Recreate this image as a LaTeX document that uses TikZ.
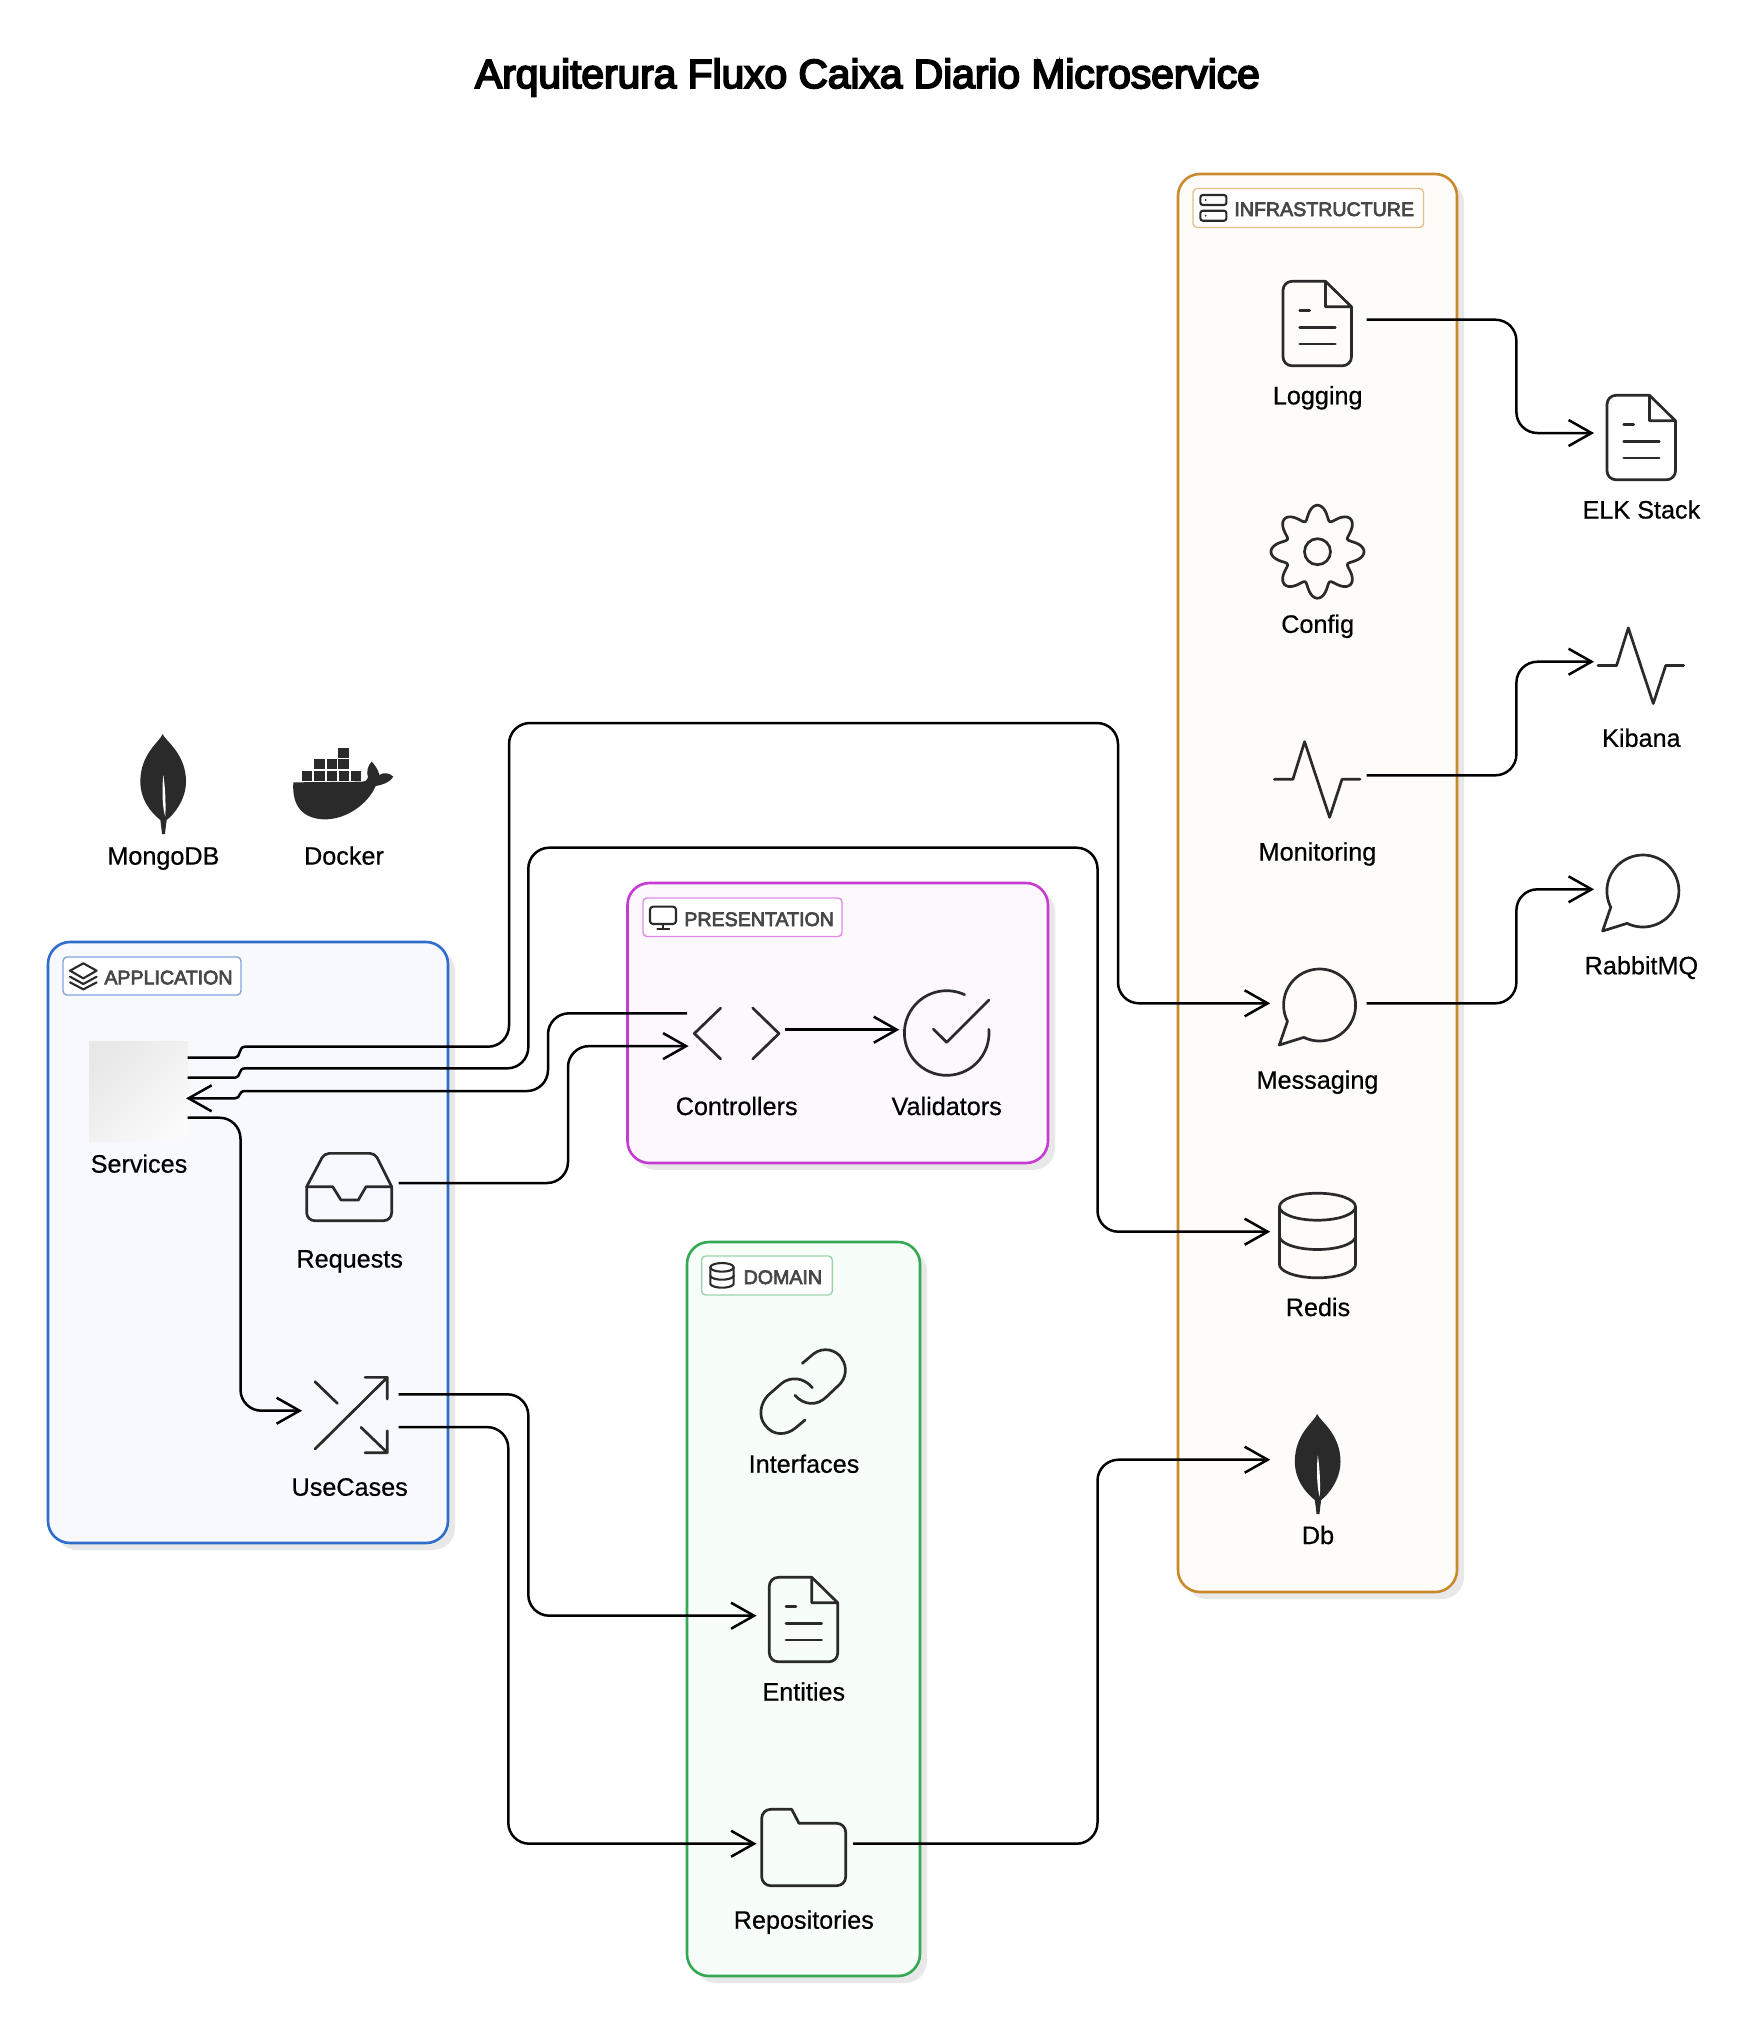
\documentclass[tikz,border=0pt]{standalone}
\usepackage{fontspec}
\setmainfont{Liberation Sans}
\newfontfamily\titlefont[FakeBold=4.5]{Liberation Sans}
\newfontfamily\groupfont[FakeBold=3.5]{Liberation Sans}
\newfontfamily\labelfont[FakeBold=0.5]{Liberation Sans}
\usetikzlibrary{arrows.meta,calc,shadings}
\definecolor{inkc}{HTML}{2A2A2A}
\definecolor{shadowc}{HTML}{E8E8E8}
\definecolor{appS}{HTML}{2F6DCB}\definecolor{appF}{HTML}{F8F9FE}\definecolor{appL}{HTML}{7FA6E0}
\definecolor{preS}{HTML}{C63CD2}\definecolor{preF}{HTML}{FCF8FE}\definecolor{preL}{HTML}{E08AE8}
\definecolor{domS}{HTML}{34A853}\definecolor{domF}{HTML}{F7FDF9}\definecolor{domL}{HTML}{9AD4AB}
\definecolor{infS}{HTML}{C98A2E}\definecolor{infF}{HTML}{FDFCF8}\definecolor{infL}{HTML}{E5C08A}
\tikzset{
  x=0.5pt,y=-0.5pt,
  conn/.style={draw=black,line width=1.25pt},
  arrowend/.style={-{Straight Barb[length=11.5pt,width=13pt,line width=1.25pt]},shorten >=-0.8pt},
  arrowstart/.style={{Straight Barb[length=11.5pt,width=13pt,line width=1.25pt]}-,shorten <=-0.8pt},
  round path/.style={rounded corners=10.5pt},
  iconnode/.style={inner sep=0pt,outer sep=0pt,minimum size=49pt,draw=none},
  lbl/.style={anchor=base,inner sep=0pt,text=black,font=\labelfont\fontsize{12.6}{15}\selectfont},
  grouptext/.style={anchor=base west,inner sep=0pt,text=black!72,font=\groupfont\fontsize{9.8}{12}\selectfont},
  ink/.style={draw=inkc,line width=1.35pt,line cap=round,line join=round},
  inkthin/.style={draw=inkc,line width=1.05pt,line cap=round,line join=round},
  z3/.style={x=0.16667pt,y=-0.16667pt},
}
% group box: x1 y1 x2 y2 prefix, label box x1 y1 x2 y2
\newcommand\groupbox[9]{%
  \fill[shadowc,rounded corners=11pt] (#1+7,#2+7) rectangle (#3+7,#4+7);
  \draw[draw=#5S,fill=#5F,line width=1.3pt,rounded corners=11pt] (#1,#2) rectangle (#3,#4);
  \draw[draw=#5L,fill=white,line width=0.7pt,rounded corners=2pt] (#6,#7) rectangle (#8,#9);
}
\newcommand\docicon[2]{%
  \begin{scope}[shift={(#1,#2)}]
    \draw[ink,rounded corners=4.5pt] (42.5,0) -- (0,0) -- (0,84.5) -- (68.5,84.5) -- (68.5,25.5);
    \draw[ink] (68.5,25.5) -- (42.5,0) -- (42.5,25.5) -- cycle;
    \draw[ink] (16.7,29.3) -- (26.7,29.3) (16.7,46) -- (52.3,46) (16.7,62.7) -- (52.3,62.7);
  \end{scope}}
\newcommand\pulseicon[2]{%
  \begin{scope}[shift={(#1,#2)}]
    \draw[ink] (0,0) -- (18.6,0) -- (30.3,-37.6) -- (55.3,38) -- (67.7,0) -- (85.7,0);
  \end{scope}}
\newcommand\bubbleicon[2]{%
  \begin{scope}[shift={(#1,#2)}]
    \draw[ink] plot[domain=244:566.8,samples=70] ({36*cos(\x)},{-36*sin(\x)}) -- (-40.3,40) -- cycle;
  \end{scope}}
\newcommand\leaficon[3]{%
  \begin{scope}[shift={(#1,#2)},z3]
    \fill[inkc] (308,42) .. controls (315,62) and (378,100) .. (378,185) .. controls (378,240) and (340,285) .. (320,300) .. controls (318,315) and (316,330) .. (315,342) -- (306,342) .. controls (305,330) and (303,315) .. (301,300) .. controls (275,280) and (241,240) .. (241,185) .. controls (241,100) and (300,65) .. (308,42) -- cycle;
    \fill[#3] (310,165) .. controls (305,210) and (308,270) .. (316,290) .. controls (318,240) and (315,200) .. (310,165) -- cycle;
  \end{scope}}
\newcommand\lowarc[4]{plot[domain=180:360,samples=30] ({#1+#3*cos(\x)},{#2-#4*sin(\x)})}
\begin{document}
\begin{tikzpicture}
\useasboundingbox (0,0) rectangle (1761,2026);
\fill[white] (0,0) rectangle (1761,2026);

% title
\node[anchor=base,inner sep=0pt,text=black,font=\titlefont\fontsize{20.35}{24}\selectfont] (title) at (867.5,88) {Arquiterura Fluxo Caixa Diario Microservice};

% groups
\groupbox{48}{942}{448}{1543}{app}{63}{957}{241}{995}
\groupbox{627.5}{883}{1048}{1163}{pre}{643}{898}{842}{936.5}
\groupbox{687}{1242}{920}{1976}{dom}{701.7}{1256}{832.3}{1295}
\groupbox{1178}{174}{1457}{1592}{inf}{1193}{188.5}{1423.5}{227.5}

\node[grouptext] (appT) at (104,984.3) {APPLICATION};
\node[grouptext] (preT) at (684,926) {PRESENTATION};
\node[grouptext] (domT) at (743.3,1284) {DOMAIN};
\node[grouptext] (infT) at (1234,216) {INFRASTRUCTURE};

% group icons
\begin{scope}[shift={(40,930)},z3]
  \draw[inkthin] (130,100) -- (170,122) -- (130,145) -- (90,122) -- cycle;
  \draw[inkthin] (90,140) -- (130,162) -- (170,140);
  \draw[inkthin] (90,157) -- (130,178) -- (170,157);
\end{scope}
\begin{scope}[shift={(600,860)},z3]
  \draw[inkthin,rounded corners=1.5pt] (150,140) rectangle (228,192);
  \draw[inkthin] (190,192) -- (190,207) (172,207) -- (208,207);
\end{scope}
\draw[inkthin,rounded corners=1.2pt] (1200.4,195) rectangle (1226.4,205);
\draw[inkthin,rounded corners=1.2pt] (1200.4,210.7) rectangle (1226.4,220.7);
\fill[inkc] (1205.7,200) circle[radius=1] (1205.7,215.7) circle[radius=1];
\begin{scope}[shift={(680,1240)},z3]
  \draw[inkthin] (126,82) ellipse[x radius=35,y radius=13];
  \draw[inkthin] (91,82) -- (91,130) \lowarc{126}{130}{35}{13} -- (161,82);
  \draw[inkthin] \lowarc{126}{106}{35}{13};
\end{scope}

% icon anchors
\node[iconnode] (services) at (138.7,1091) {};
\node[iconnode] (requests) at (349.5,1183) {};
\node[iconnode] (usecases) at (349.5,1410.7) {};
\node[iconnode] (controllers) at (736,1029.7) {};
\node[iconnode] (validators) at (946.7,1029.7) {};
\node[iconnode] (interfaces) at (804,1387.7) {};
\node[iconnode] (entities) at (804,1615.7) {};
\node[iconnode] (repositories) at (804,1843.7) {};
\node[iconnode] (logging) at (1317.6,319.7) {};
\node[iconnode] (config) at (1317.6,547.5) {};
\node[iconnode] (monitoring) at (1317.6,775.3) {};
\node[iconnode] (messaging) at (1317.6,1003.3) {};
\node[iconnode] (redis) at (1317.6,1231.7) {};
\node[iconnode] (db) at (1317.6,1459.7) {};
\node[iconnode] (elk) at (1641.5,433) {};
\node[iconnode] (kibana) at (1641.5,661.7) {};
\node[iconnode] (rabbitmq) at (1641.5,889.3) {};
\node[iconnode] (mongodb) at (163.5,785) {};
\node[iconnode] (docker) at (344,785) {};

% services placeholder
\shade[top color=black!9,middle color=black!2.5,bottom color=white!98!black,shading angle=45] (89.3,1041.7) rectangle (188,1141.7);

% icons
\leaficon{60}{720}{white}
\leaficon{1214.5}{1400}{infF}
\begin{scope}[shift={(60,720)},z3]
  \fill[inkc] (700,187) -- (905,185) .. controls (918,185) and (922,180) .. (924,172) .. controls (918,155) and (924,135) .. (935,125) .. controls (945,135) and (955,150) .. (958,165) .. controls (972,155) and (990,160) .. (1000,170) .. controls (990,188) and (965,195) .. (947,198) .. controls (925,250) and (860,300) .. (790,298) .. controls (730,295) and (695,260) .. (700,187) -- cycle;
  \foreach \a in {726,763,800,837,873} \fill[inkc] (\a,152) rectangle ++(31,30);
  \foreach \a in {763,800,835} \fill[inkc] (\a,118) rectangle ++(31,30);
  \fill[inkc] (835,85) rectangle ++(31,30);
\end{scope}
% requests inbox
\begin{scope}[shift={(280,1130)},z3]
  \draw[ink,rounded corners=4pt] (80,170) -- (80,272) -- (335,272) -- (335,170);
  \draw[ink,rounded corners=2.5pt] (80,170) -- (133,70) -- (285,70) -- (335,170);
  \draw[ink] (80,170) -- (158,170) -- (183,210) -- (235,210) -- (258,170) -- (335,170);
  % usecases shuffle
  \draw[ink] (105,957) -- (322,742) (255,742) -- (322,742) -- (322,807);
  \draw[ink] (105,755) -- (172,820);
  \draw[ink] (243,892) -- (322,968) (322,902) -- (322,968) -- (255,968);
\end{scope}
% controllers
\draw[ink] (720.7,1008) -- (694.3,1033.5) -- (720.7,1059);
\draw[ink] (752.7,1008) -- (779,1033.5) -- (752.7,1059);
% validators
\draw[ink] plot[domain=65:365,samples=70] ({946.7+42.3*cos(\x)},{1033-42.3*sin(\x)});
\draw[ink] (933.3,1029) -- (946.7,1042.3) -- (989,1000);
% interfaces link
\begin{scope}[shift={(680,1240)},z3]
  \draw[ink] (367,370) -- (400,342) .. controls (430,318) and (470,330) .. (485,355) .. controls (505,385) and (495,415) .. (480,432) -- (440,470) .. controls (410,500) and (370,495) .. (345,466);
  \draw[ink] (397,443) .. controls (370,410) and (330,410) .. (305,430) -- (265,465) .. controls (240,490) and (235,530) .. (255,555) .. controls (280,590) and (320,585) .. (345,565) -- (375,540);
\end{scope}
% documents
\docicon{769.3}{1577.3}
\docicon{1283}{281.3}
\docicon{1607}{395.3}
% repositories folder
\draw[ink,rounded corners=4.5pt] (791.7,1809.3) -- (761.7,1809.3) -- (761.7,1885.7) -- (845.7,1885.7) -- (845.7,1823.3) -- (799,1823.3);
\draw[ink] (791.7,1809.3) -- (799,1823.3);
% config gear
\draw[ink] plot[domain=0:360,samples=200] ({1317.5+(39.5+7*cos(8*\x))*cos(\x+1.5*sin(8*\x))},{551.7-(39.5+7*cos(8*\x))*sin(\x+1.5*sin(8*\x))}) -- cycle;
\draw[ink] (1317.5,551.7) circle[radius=13];
% monitoring / kibana
\pulseicon{1274.3}{779.3}
\pulseicon{1598}{665.5}
% messaging / rabbit
\bubbleicon{1319.6}{1005}
\bubbleicon{1642.9}{891}
% redis
\draw[ink] (1317.5,1206.7) ellipse[x radius=38,y radius=13.5];
\draw[ink] (1279.5,1206.7) -- (1279.5,1264.3) \lowarc{1317.5}{1264.3}{38}{13.5} -- (1355.5,1206.7);
\draw[ink] \lowarc{1317.5}{1236}{38}{13.5};

% labels
\node[lbl] (mongoL) at (163.4,864.6) {MongoDB};
\node[lbl] (dockerL) at (344,864.6) {Docker};
\node[lbl] (servicesL) at (139,1172.6) {Services};
\node[lbl] (requestsL) at (349.7,1267.5) {Requests};
\node[lbl] (usecasesL) at (349.7,1495.7) {UseCases};
\node[lbl] (controllersL) at (736.7,1115) {Controllers};
\node[lbl] (validatorsL) at (946.7,1115) {Validators};
\node[lbl] (interfacesL) at (804,1472.7) {Interfaces};
\node[lbl] (entitiesL) at (803.8,1700.5) {Entities};
\node[lbl] (repositoriesL) at (803.8,1928.7) {Repositories};
\node[lbl] (loggingL) at (1317.7,404.3) {Logging};
\node[lbl] (configL) at (1317.7,632.8) {Config};
\node[lbl] (monitoringL) at (1317.5,860.5) {Monitoring};
\node[lbl] (messagingL) at (1317.5,1088.7) {Messaging};
\node[lbl] (redisL) at (1318,1316) {Redis};
\node[lbl] (dbL) at (1318,1544) {Db};
\node[lbl] (elkL) at (1641.4,518.5) {ELK Stack};
\node[lbl] (kibanaL) at (1641.4,746.8) {Kibana};
\node[lbl] (rabbitL) at (1641.4,974.3) {RabbitMQ};

% ports
\coordinate (svA) at ($(services.east)+(0,-33.3)$);
\coordinate (svB) at ($(services.east)+(0,-13.3)$);
\coordinate (svC) at ($(services.east)+(0,7.3)$);
\coordinate (svD) at ($(services.east)+(0,26.7)$);
\coordinate (ctA) at ($(controllers.west)+(0,-16.4)$);
\coordinate (ctB) at ($(controllers.west)+(0,16.4)$);
\coordinate (ucA) at ($(usecases.east)+(0,-16.4)$);
\coordinate (ucB) at ($(usecases.east)+(0,16.4)$);

% connectors
\draw[conn,arrowend] (svA) -- (235,1057.7) .. controls (241,1057.7) and (238,1046.7) .. (245,1046.7) [round path] -- (509,1046.7) -- (509,723) -- (1118,723) -- (1118,1003.3) -- (messaging.west);
\draw[conn,arrowend] (svB) -- (235,1077.7) .. controls (241,1077.7) and (238,1068.3) .. (245,1068.3) [round path] -- (528.3,1068.3) -- (528.3,847.7) -- (1097.5,847.7) -- (1097.5,1231.7) -- (redis.west);
\draw[conn,arrowstart] (svC) -- (235,1098.3) .. controls (241,1098.3) and (238,1091) .. (245,1091) [round path] -- (548,1091) -- (548,1013.3) -- (ctA);
\draw[conn,arrowend,round path] (requests.east) -- (568,1183) -- (568,1046.1) -- (ctB);
\draw[conn,arrowend,round path] (svD) -- (240.5,1117.7) -- (240.5,1410.7) -- (usecases.west);
\draw[conn,arrowend] (controllers.east) -- (validators.west);
\draw[conn,arrowend,round path] (ucA) -- (528.3,1394.3) -- (528.3,1615.7) -- (entities.west);
\draw[conn,arrowend,round path] (ucB) -- (508.3,1427.1) -- (508.3,1843.7) -- (repositories.west);
\draw[conn,arrowend,round path] (repositories.east) -- (1097.5,1843.7) -- (1097.5,1459.7) -- (db.west);
\draw[conn,arrowend,round path] (logging.east) -- (1516.4,319.7) -- (1516.4,433) -- (elk.west);
\draw[conn,arrowend,round path] (monitoring.east) -- (1516.4,775.3) -- (1516.4,661.7) -- (kibana.west);
\draw[conn,arrowend,round path] (messaging.east) -- (1516.4,1003.3) -- (1516.4,889.3) -- (rabbitmq.west);
\end{tikzpicture}
\end{document}
